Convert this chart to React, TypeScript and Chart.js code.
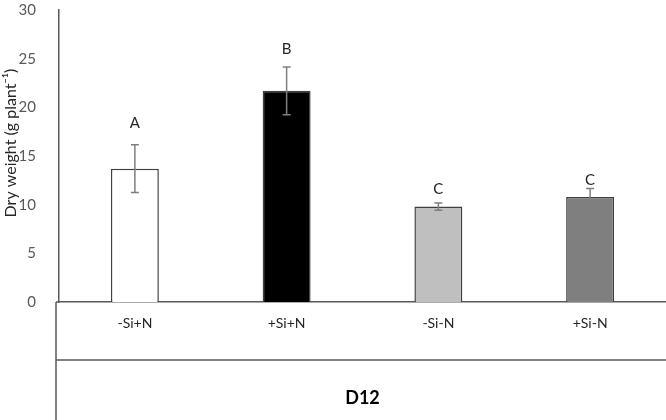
import React, { useEffect, useRef } from "react";
import { Chart, registerables } from "chart.js";

Chart.register(...registerables);

const categories = ["-Si+N", "+Si+N", "-Si-N", "+Si-N"];
const dryWeight = [13.7, 21.7, 9.8, 10.8];
const errors = [2.45, 2.45, 0.38, 0.85];
const letters = ["A", "B", "C", "C"];
const letterValues = [18.4, 26.0, 11.6, 12.5];
const groupLabel = "D12";
const yTitle = "Dry weight (g plant⁻¹)";
const yTicks = [0, 5, 10, 15, 20, 25, 30];

const barFill = ["#ffffff", "#000000", "#bfbfbf", "#7f7f7f"];
const FONT = "Lato, 'Open Sans', sans-serif";

export default function App() {
  const ref = useRef<HTMLCanvasElement | null>(null);

  useEffect(() => {
    if (!ref.current) return;
    const extras = {
      id: "extras",
      afterDatasetsDraw(chart: any) {
        const { ctx, chartArea, scales } = chart;
        const x = scales.x;
        const y = scales.y;
        ctx.save();
        // error bars
        ctx.strokeStyle = "#7f7f7f";
        ctx.lineWidth = 1.5;
        dryWeight.forEach((v, i) => {
          const cx = x.getPixelForValue(i);
          const top = y.getPixelForValue(v + errors[i]);
          const bot = y.getPixelForValue(v - errors[i]);
          ctx.beginPath();
          ctx.moveTo(cx, top);
          ctx.lineTo(cx, bot);
          ctx.moveTo(cx - 4, top);
          ctx.lineTo(cx + 4, top);
          ctx.moveTo(cx - 4, bot);
          ctx.lineTo(cx + 4, bot);
          ctx.stroke();
        });
        // letters
        ctx.fillStyle = "#262626";
        ctx.font = `15px ${FONT}`;
        ctx.textAlign = "center";
        ctx.textBaseline = "middle";
        letters.forEach((l, i) => {
          ctx.fillText(l, x.getPixelForValue(i), y.getPixelForValue(letterValues[i]));
        });
        // y axis title
        ctx.save();
        ctx.translate(11, 143);
        ctx.rotate(-Math.PI / 2);
        ctx.font = `16px ${FONT}`;
        ctx.fillStyle = "#262626";
        ctx.fillText(yTitle, 0, 0);
        ctx.restore();
        // multi-level category axis lines
        const lx = chartArea.left - 3;
        ctx.strokeStyle = "#595959";
        ctx.lineWidth = 1.5;
        ctx.beginPath();
        ctx.moveTo(lx, chartArea.bottom);
        ctx.lineTo(chartArea.left, chartArea.bottom);
        ctx.moveTo(lx, chartArea.bottom);
        ctx.lineTo(lx, chart.height);
        ctx.moveTo(lx, 360);
        ctx.lineTo(chartArea.right, 360);
        ctx.stroke();
        ctx.fillStyle = "#000000";
        ctx.font = `bold 18px ${FONT}`;
        ctx.fillText(groupLabel, (chartArea.left + chartArea.right) / 2, 398);
        ctx.restore();
      },
    };

    const chart = new Chart(ref.current, {
      type: "bar",
      data: {
        labels: categories,
        datasets: [
          {
            data: dryWeight,
            backgroundColor: barFill,
            borderColor: "#404040",
            borderWidth: 1.5,
            barPercentage: 0.316,
            categoryPercentage: 1,
          },
        ],
      },
      options: {
        responsive: false,
        animation: false,
        layout: { padding: { top: 0, right: 0, left: 0, bottom: 0 } },
        plugins: {
          legend: { display: false },
          tooltip: { enabled: false },
        },
        scales: {
          x: {
            grid: { display: false },
            border: { display: true, color: "#595959", width: 1.5 },
            ticks: {
              color: "#262626",
              font: { family: FONT, size: 14 },
              padding: 5,
              maxRotation: 0,
            },
            afterFit(scale: any) {
              scale.height = 118;
            },
          },
          y: {
            min: 0,
            max: 30,
            afterBuildTicks(scale: any) {
              scale.ticks = yTicks.map((v) => ({ value: v }));
            },
            grid: { display: false },
            border: { display: true, color: "#595959", width: 1.5 },
            ticks: {
              color: "#595959",
              font: { family: FONT, size: 15 },
              padding: 15,
            },
            afterFit(scale: any) {
              scale.width = 59;
              scale.paddingTop = 10;
              scale.paddingBottom = 0;
            },
          },
        },
      },
      plugins: [extras],
    });
    return () => chart.destroy();
  }, []);

  return (
    <div style={{ position: "fixed", left: 0, top: 0, width: 666, height: 420, background: "#fff" }}>
      <canvas ref={ref} width={666} height={420} />
    </div>
  );
}
